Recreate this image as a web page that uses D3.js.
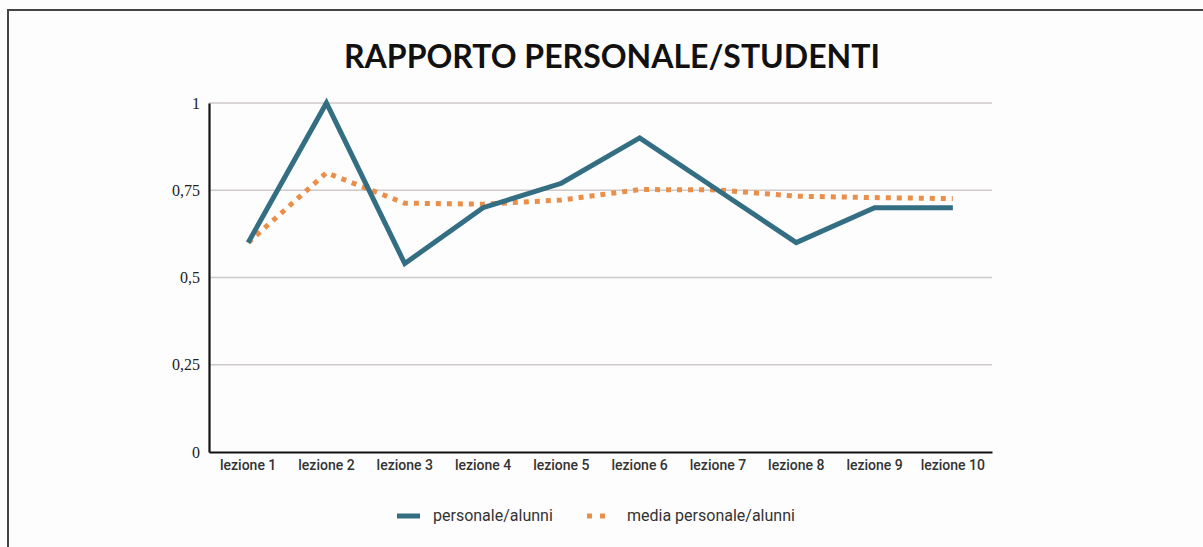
<!DOCTYPE html>
<meta charset="utf-8">
<script src="https://d3js.org/d3.v7.min.js"></script>
<style>
  body { margin: 0; background: #fdfdfd; }
</style>
<div id="chart"></div>
<script>
// data
var lessons = ["lezione 1", "lezione 2", "lezione 3", "lezione 4", "lezione 5",
               "lezione 6", "lezione 7", "lezione 8", "lezione 9", "lezione 10"];
var personale = [0.6, 1.0, 0.54, 0.7, 0.77, 0.9, 0.75, 0.6, 0.7, 0.7];
var media = [0.6, 0.8, 0.713, 0.71, 0.722, 0.752, 0.751, 0.733, 0.729, 0.726];
var yTicks = [0, 0.25, 0.5, 0.75, 1];
var yTickLabels = ["0", "0,25", "0,5", "0,75", "1"];
var seriesNames = ["personale/alunni", "media personale/alunni"];

var W = 1203, H = 547;
var plot = {left: 209, right: 992, top: 103, bottom: 452};

var svg = d3.select("#chart").append("svg")
    .attr("width", W).attr("height", H);

// frame
svg.append("path")
    .attr("d", "M8," + H + " L8,10 L" + W + ",10")
    .attr("fill", "none").attr("stroke", "#444").attr("stroke-width", 2);

svg.append("text")
    .attr("x", 612).attr("y", 68)
    .attr("text-anchor", "middle")
    .style("font-family", "Lato")
    .style("font-weight", "bold")
    .style("font-size", "32px")
    .style("fill", "#111")
    .text("RAPPORTO PERSONALE/STUDENTI");

var x = d3.scaleBand().domain(lessons).range([plot.left, plot.right]);
var y = d3.scaleLinear().domain([0, 1]).range([plot.bottom, plot.top]);

// gridlines
svg.append("g")
  .selectAll("line")
  .data(yTicks.filter(d => d > 0))
  .enter().append("line")
    .attr("x1", plot.left).attr("x2", plot.right)
    .attr("y1", d => y(d)).attr("y2", d => y(d))
    .attr("stroke", "#cfc9c9").attr("stroke-width", 1.5);

// y axis
var yAxis = svg.append("g")
    .attr("transform", "translate(" + plot.left + ",0)")
    .call(d3.axisLeft(y).tickValues(yTicks).tickSize(0).tickPadding(9)
      .tickFormat((d, i) => yTickLabels[i]));
yAxis.select(".domain").attr("stroke", "#111").attr("stroke-width", 2.2);
yAxis.selectAll("text")
    .style("font-family", "Liberation Serif")
    .style("font-size", "16px")
    .style("fill", "#222");

// x axis
var xAxis = svg.append("g")
    .attr("transform", "translate(0," + plot.bottom + ")")
    .call(d3.axisBottom(x).tickSize(0).tickPadding(8));
xAxis.select(".domain").attr("stroke", "#111").attr("stroke-width", 2.2);
xAxis.selectAll("text")
    .style("font-family", "Roboto")
    .style("font-weight", "500")
    .style("font-size", "14px")
    .style("fill", "#333");

var cx = d => x(d) + x.bandwidth() / 2;

var line = d3.line()
    .x((d, i) => cx(lessons[i]))
    .y(d => y(d));

svg.append("path")
    .datum(media)
    .attr("d", line)
    .attr("fill", "none")
    .attr("stroke", "#ea8f4a")
    .attr("stroke-width", 5)
    .attr("stroke-dasharray", "5,6");

svg.append("path")
    .datum(personale)
    .attr("d", line)
    .attr("fill", "none")
    .attr("stroke", "#336e82")
    .attr("stroke-width", 5)
    .attr("stroke-linejoin", "miter");

// legend
var leg = svg.append("g");
leg.append("line")
    .attr("x1", 397).attr("x2", 420).attr("y1", 516).attr("y2", 516)
    .attr("stroke", "#336e82").attr("stroke-width", 5);
leg.append("text")
    .attr("x", 433).attr("y", 521)
    .style("font-family", "Roboto").style("font-size", "16px").style("fill", "#333")
    .text(seriesNames[0]);
leg.append("line")
    .attr("x1", 587).attr("x2", 605).attr("y1", 516).attr("y2", 516)
    .attr("stroke", "#ea8f4a").attr("stroke-width", 5)
    .attr("stroke-dasharray", "5,8");
leg.append("text")
    .attr("x", 627).attr("y", 521)
    .style("font-family", "Roboto").style("font-size", "16px").style("fill", "#333")
    .text(seriesNames[1]);
</script>
